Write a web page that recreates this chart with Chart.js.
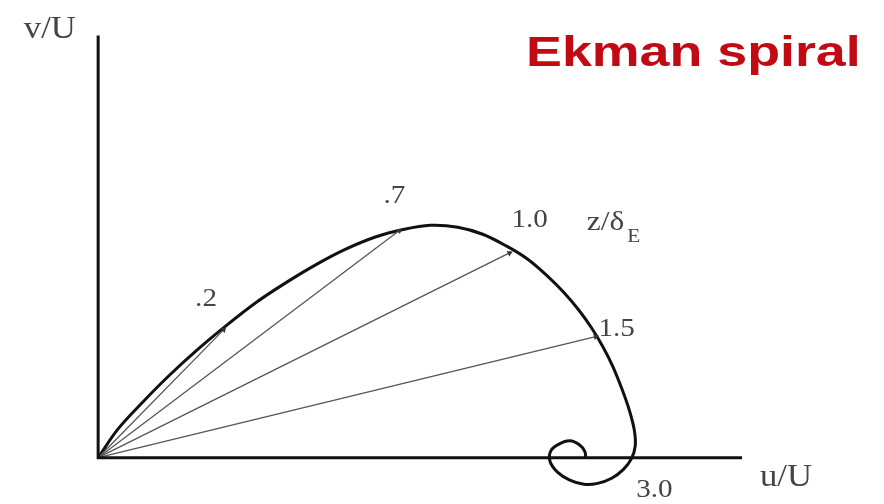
<!DOCTYPE html>
<html>
<head>
<meta charset="utf-8">
<title>Ekman spiral</title>
<script src="https://cdn.jsdelivr.net/npm/chart.js@4/dist/chart.umd.min.js"></script>
<style>
    html, body { margin: 0; padding: 0; background: #fff; }
    #chartCanvas { display: block; }
</style>
</head>
<body>
<canvas id="chartCanvas" width="884" height="504"></canvas>
<script>
// Spiral (u/U, v/U)
const spiralU = [0, 0.042, 0.095, 0.147, 0.211, 0.274, 0.337, 0.400, 0.463, 0.526, 0.589, 0.648, 0.705,
    0.764, 0.817, 0.867, 0.912, 0.954, 0.989, 1.021, 1.048, 1.072, 1.093, 1.112, 1.128, 1.139, 1.141,
    1.133, 1.116, 1.091, 1.061, 1.032, 1.002, 0.977, 0.960, 0.962, 0.979, 1.002, 1.023, 1.034, 1.036];
const spiralV = [0, 0.061, 0.119, 0.172, 0.231, 0.284, 0.333, 0.375, 0.413, 0.446, 0.472, 0.488, 0.497,
    0.493, 0.478, 0.453, 0.425, 0.389, 0.354, 0.316, 0.278, 0.238, 0.196, 0.149, 0.103, 0.059, 0.025,
    -0.002, -0.025, -0.044, -0.055, -0.057, -0.048, -0.032, -0.008, 0.015, 0.029, 0.036, 0.027, 0.013, -0.002];

// Velocity arrows from the origin, one per depth z/δE
const arrowDepths = ['.2', '.7', '1.0', '1.5'];
const arrowU = [0.267, 0.640, 0.874, 1.057];
const arrowV = [0.274, 0.486, 0.438, 0.259];

// Axis lengths
const xAxisEnd = 1.368;
const yAxisEnd = 0.903;

// Text labels and where they sit (data units)
const labelTexts = ['v/U', 'u/U', '.2', '.7', '1.0', '1.5', '3.0', 'z/δ', 'E'];
const labelU = [-0.158, 1.406, 0.206, 0.606, 0.878, 1.063, 1.143, 1.038, 1.124];
const labelV = [0.897, -0.061, 0.324, 0.545, 0.493, 0.261, -0.084, 0.486, 0.461];
const titleText = 'Ekman spiral';
const titleU = 0.909;
const titleV = 0.837;

function toPoints(us, vs) {
    return us.map((u, i) => ({ x: u, y: vs[i] }));
}

// Point the triangle along the arrow, using pixel positions from the scales
function arrowRotation(ctx) {
    const chart = ctx.chart;
    const pts = ctx.dataset.data;
    const xs = chart.scales.x, ys = chart.scales.y;
    const dx = xs.getPixelForValue(pts[1].x) - xs.getPixelForValue(pts[0].x);
    const dy = ys.getPixelForValue(pts[1].y) - ys.getPixelForValue(pts[0].y);
    return Math.atan2(dx, -dy) * 180 / Math.PI;
}

const datasets = [];

// axes
datasets.push({
    data: [{ x: 0, y: yAxisEnd }, { x: 0, y: 0 }, { x: xAxisEnd, y: 0 }],
    showLine: true,
    borderColor: '#111',
    borderWidth: 3,
    pointRadius: 0,
    tension: 0
});

// arrows
arrowU.forEach((u, i) => {
    datasets.push({
        data: [{ x: 0, y: 0 }, { x: u, y: arrowV[i] }],
        showLine: true,
        borderColor: '#555',
        borderWidth: 1.3,
        pointStyle: 'triangle',
        pointRadius: [0, 3.5],
        pointBackgroundColor: '#333',
        pointBorderColor: '#333',
        pointBorderWidth: 0,
        rotation: arrowRotation,
        tension: 0
    });
});

// spiral
datasets.push({
    data: toPoints(spiralU, spiralV),
    showLine: true,
    borderColor: '#111',
    borderWidth: 3,
    pointRadius: 0,
    tension: 0.35
});

// Draw the text labels at data positions
const labelPlugin = {
    id: 'labels',
    afterDatasetsDraw(chart) {
        const ctx = chart.ctx;
        const xs = chart.scales.x, ys = chart.scales.y;
        ctx.save();
        ctx.textBaseline = 'alphabetic';
        ctx.textAlign = 'left';
        labelTexts.forEach((t, i) => {
            let size = 26;
            if (t === 'v/U' || t === 'u/U') size = 31;
            if (t === 'z/δ') size = 28;
            if (t === 'E') size = 19;
            ctx.save();
            ctx.translate(xs.getPixelForValue(labelU[i]), ys.getPixelForValue(labelV[i]));
            ctx.scale(1.12, 1);
            ctx.font = size + 'px "Liberation Serif", "DejaVu Serif", serif';
            ctx.fillStyle = '#444';
            ctx.fillText(t, 0, 0);
            ctx.restore();
        });
        // title
        ctx.translate(xs.getPixelForValue(titleU), ys.getPixelForValue(titleV));
        ctx.scale(1.28, 1);
        ctx.font = 'bold 42px "Liberation Sans", Arial, sans-serif';
        ctx.fillStyle = '#c20a14';
        ctx.fillText(titleText, 0, 0);
        ctx.restore();
    }
};

function renderChart() {
    const ctx = document.getElementById('chartCanvas').getContext('2d');
    new Chart(ctx, {
        type: 'scatter',
        data: { datasets: datasets },
        options: {
            responsive: false,
            animation: false,
            events: [],
            layout: { padding: 0 },
            plugins: { legend: { display: false }, tooltip: { enabled: false } },
            scales: {
                x: { type: 'linear', display: false, min: -0.2, max: 1.661 },
                y: { type: 'linear', display: false, min: -0.0905, max: 0.9705 }
            }
        },
        plugins: [labelPlugin]
    });
}

document.addEventListener('DOMContentLoaded', renderChart);
</script>
</body>
</html>
